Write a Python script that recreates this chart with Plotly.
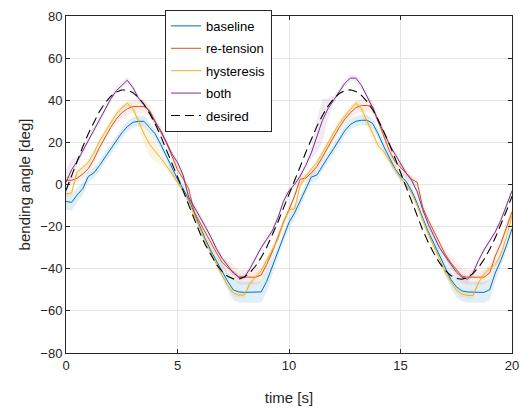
import numpy as np
import plotly.graph_objects as go

# time axis [s], 0.25 s sampling
time_s = np.arange(81) * 0.25

baseline = [-8, -8.5, -5, -2, 3.8, 5.5, 9, 13, 16.5, 20.5, 24.5, 27.5, 29.5, 30, 30, 27, 24, 19, 13.5, 7.5,
            2.5, -2, -7, -13.5, -20, -26, -31.5, -36.5, -41, -46, -50, -51, -51.2, -51.2, -51.2, -51, -46, -39, -32, -25,
            -18, -13.5, -8, -2, 3.5, 4.5, 9, 13, 17, 21, 25.5, 28.5, 30, 30.5, 30.5, 29, 24, 18, 12.5, 7.5,
            4, 1.5, -3, -9, -16, -22.5, -28, -33.5, -39.5, -45, -48.5, -50.5, -51, -51.2, -51.2, -51.2, -50, -42, -36, -29, -21]
retension = [2, 2, 3, 5, 7.5, 12, 17.5, 22.5, 27, 31, 34, 36, 37, 37, 37, 35, 30, 25.5, 20, 13.5,
             7, 2.8, -2, -13, -18, -23, -28, -32.5, -37, -39.5, -41.5, -44, -44, -44, -44, -43, -38, -32, -25, -18,
             -12, -5.5, 2.5, 3, 5.5, 8.5, 13, 18, 22.5, 27, 31, 34, 36.5, 37.5, 37.5, 37, 30, 23, 16, 11,
             8, 5, 2.5, 1, -11, -17, -22.5, -28, -33, -37, -40.5, -43.5, -44, -44, -44, -44, -42, -34, -28, -20, -13]
hysteresis = [-4.5, -4, 6, 8, 10.5, 15, 20.5, 25, 29.5, 33.5, 36.5, 38.5, 36, 30, 24, 19, 16, 12.5, 9, 5,
              1.5, -3, -8, -14.5, -21, -27, -32.5, -38, -43, -48, -51.5, -52.5, -52.5, -47, -44, -41, -36, -31, -26, -18,
              -12, -11.5, -0.5, 4, 7, 10.5, 15, 20, 24.5, 29, 32.5, 35.5, 38.5, 36, 30, 24, 18.5, 15.5, 11.5, 7.5,
              3, 0, -4, -10, -17, -23.5, -29.5, -35.5, -41.5, -46, -50, -52, -52.7, -52.7, -46.5, -42.5, -40, -38, -33, -25, -15]
both = [1, 7, 11, 16, 21, 26, 30.5, 35.5, 40.5, 44.5, 47, 49.5, 46, 41, 38, 34.5, 29.5, 25.5, 20, 14.5,
        10.5, 4.5, -6, -10.5, -15, -20, -25, -30.5, -35, -38.5, -42, -44, -44, -40, -35, -30, -26, -22, -16, -8,
        -3, 0, 4, 9, 15, 23, 30.5, 36, 40, 44, 48, 50.5, 50.5, 47, 42, 36.5, 30, 25, 19, 14.5,
        10, 5.5, 2, -3.5, -12, -19, -24.5, -30, -34, -38, -41.5, -44, -45, -42, -36, -31, -27, -22.5, -17, -10, -3]
desired = [-2.8, 4.2, 11.2, 17.9, 24.1, 29.8, 34.7, 38.7, 41.8, 43.9, 44.9, 44.8, 43.6, 41.3, 38.0, 33.7, 28.7, 22.9, 16.6, 9.8,
           4.2, -2.8, -9.8, -16.6, -22.9, -28.7, -33.7, -38.0, -41.3, -43.6, -44.8, -44.9, -43.9, -41.8, -38.7, -34.7, -29.8, -24.1, -17.9, -11.2,
           -4.8, 1.4, 8.4, 15.2, 21.7, 27.6, 32.8, 37.2, 40.7, 43.2, 44.6, 45.0, 44.2, 42.3, 39.4, 35.5, 30.8, 25.3, 19.2, 12.6,
           5.6, -1.4, -8.4, -15.2, -21.7, -27.6, -32.8, -37.2, -40.7, -43.2, -44.6, -45.0, -44.2, -42.3, -39.4, -35.5, -30.8, -25.3, -19.2, -12.6, -5.6]

# spread (std) of each measured series
baseline_std = [4, 4, 3.5, 3, 2.5, 2.5, 2.5, 2.5, 2.5, 2.5, 2.5, 2.5, 2.5, 2.5, 2.5, 2.5, 2.5, 2.5, 2.5, 2.5,
                2.5, 2.5, 2.5, 2.5, 2.5, 2.5, 2.5, 2.5, 3.5, 4, 5, 5, 5, 5, 5, 5, 5, 4, 3, 2.5,
                3, 3, 3, 2.5, 2.5, 2.5, 2.5, 2.5, 2.5, 2.5, 2.5, 2.5, 2.5, 2.5, 2.5, 2.5, 2.5, 2.5, 2.5, 2.5,
                2.5, 2.5, 2.5, 2.5, 2.5, 2.5, 2.5, 2.5, 3.5, 4, 5, 5, 5, 5, 5, 5, 5, 4, 3, 2.5, 2.5]
retension_std = [2, 2, 2, 2, 2, 2, 2, 2, 2, 2, 3, 3, 3, 3, 3, 3, 2, 2, 2, 2,
                 2, 2, 2, 2, 2, 2, 2, 2, 2.5, 3, 3.5, 3.5, 3.5, 3.5, 3.5, 3.5, 3.5, 2.5, 2, 2,
                 2, 2, 2, 2, 2, 2, 2, 2, 2, 2, 3, 3, 3, 3, 3, 3, 2, 2, 2, 2,
                 2, 2, 2, 2, 2, 2, 2, 2, 2.5, 3, 3.5, 3.5, 3.5, 3.5, 3.5, 3.5, 3.5, 2.5, 2, 2, 2]
hysteresis_std = [1.5, 1.5, 1.5, 1.5, 1.5, 1.5, 1.5, 1.5, 1.5, 1.5, 1.5, 1.5, 1.5, 2, 5, 6, 5, 3, 1.5, 1.5,
                  1.5, 1.5, 1.5, 1.5, 1.5, 1.5, 1.5, 1.5, 1.5, 1.5, 1.5, 1.5, 1.5, 1.5, 1.5, 1.5, 1.5, 1.5, 1.5, 1.5,
                  1.5, 1.5, 1.5, 1.5, 1.5, 1.5, 1.5, 1.5, 1.5, 1.5, 1.5, 1.5, 1.5, 2, 3, 3, 2, 1.5, 1.5, 1.5,
                  1.5, 1.5, 1.5, 1.5, 1.5, 1.5, 1.5, 1.5, 1.5, 1.5, 1.5, 1.5, 1.5, 1.5, 1.5, 1.5, 1.5, 1.5, 1.5, 1.5, 1.5]
both_std = [6, 5, 2, 1.5, 1.5, 1.5, 1.5, 1.5, 1.5, 1.5, 1.5, 1.5, 1.5, 1.5, 1.5, 1.5, 1.5, 1.5, 1.5, 1.5,
            1.5, 1.5, 1.5, 1.5, 1.5, 1.5, 1.5, 1.5, 1.5, 1.5, 1.5, 1.5, 1.5, 1.5, 1.5, 1.5, 1.5, 1.5, 1.5, 1.5,
            1.5, 1.5, 1.5, 1.5, 3, 8, 10, 5, 2, 1.5, 1.5, 1.5, 1.5, 1.5, 1.5, 1.5, 1.5, 1.5, 1.5, 1.5,
            1.5, 1.5, 1.5, 1.5, 1.5, 1.5, 1.5, 1.5, 1.5, 1.5, 1.5, 1.5, 1.5, 1.5, 1.5, 1.5, 1.5, 1.5, 1.5, 1.5, 1.5]

series_names = ["baseline", "re-tension", "hysteresis", "both"]
series_vals = [baseline, retension, hysteresis, both]
series_std = [baseline_std, retension_std, hysteresis_std, both_std]
line_colors = ["#0072BD", "#D95319", "#EDB120", "#7E2F8E"]
band_colors = ["rgba(0,114,189,0.12)", "rgba(217,83,25,0.10)", "rgba(237,177,32,0.14)", "rgba(126,47,142,0.10)"]

FONT = "Liberation Sans, Arial, Helvetica, sans-serif"
fig = go.Figure()

# shaded bands
for vals, sd, bc in zip(series_vals, series_std, band_colors):
    m = np.array(vals, dtype=float)
    s = np.array(sd, dtype=float)
    xs = np.concatenate([time_s, time_s[::-1]])
    ys = np.concatenate([m + s, (m - s)[::-1]])
    fig.add_trace(go.Scatter(x=xs, y=ys, fill="toself", fillcolor=bc, mode="none",
                             line=dict(width=0), showlegend=False, hoverinfo="skip"))

for name, vals, c in zip(series_names, series_vals, line_colors):
    fig.add_trace(go.Scatter(x=time_s, y=vals, mode="lines", name=name, legendgroup=name,
                             line=dict(color=c, width=1)))

fig.add_trace(go.Scatter(x=time_s, y=desired, mode="lines", name="desired", legendgroup="desired",
                         line=dict(color="black", width=1.1, dash="9px,5px")))

axis_common = dict(showline=True, linecolor="#262626", linewidth=1, mirror="ticks",
                   ticks="inside", ticklen=4, tickcolor="#262626",
                   showgrid=True, gridcolor="#e5e5e5", gridwidth=1, zeroline=False,
                   tickfont=dict(family=FONT, size=13, color="#262626"))

fig.update_layout(
    width=529, height=414,
    margin=dict(l=66, r=17, t=10, b=61),
    paper_bgcolor="white", plot_bgcolor="white",
    font=dict(family=FONT, color="#262626"),
    xaxis=dict(range=[0, 20], tickvals=[0, 5, 10, 15, 20],
               title=dict(text="time [s]", font=dict(family=FONT, size=15, color="#262626"), standoff=20),
               **axis_common),
    yaxis=dict(range=[-80, 80], tickvals=[-80, -60, -40, -20, 0, 20, 40, 60, 80],
               title=dict(text="bending angle [deg]", font=dict(family=FONT, size=15, color="#262626"), standoff=6),
               **axis_common),
    legend=dict(x=0.222, y=1.018, xanchor="left", yanchor="top",
                bgcolor="white", bordercolor="#262626", borderwidth=1,
                font=dict(family=FONT, size=13, color="black"),
                tracegroupgap=2.5, entrywidth=70),
    showlegend=True,
)

fig.write_html("out.html")
